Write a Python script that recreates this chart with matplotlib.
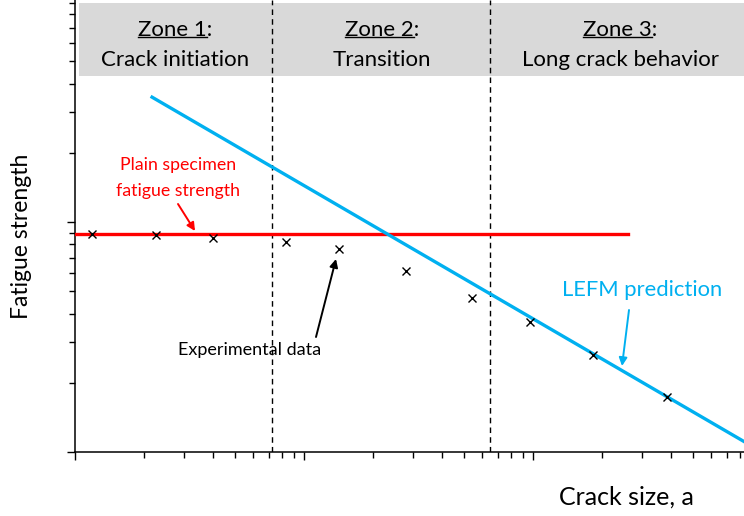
import matplotlib
matplotlib.use("Agg")
import matplotlib.pyplot as plt
from matplotlib.lines import Line2D
import numpy as np

plt.rcParams['font.family'] = ['Lato', 'DejaVu Sans']

# experimental points (crack size, fatigue strength) - arbitrary log units
exp_x = [1.19, 2.26, 4.0, 8.35, 14.2, 27.9, 54.2, 97.0, 183.0, 385.0]
exp_y = [8.87, 8.78, 8.52, 8.19, 7.63, 6.12, 4.67, 3.67, 2.64, 1.73]

# plain specimen fatigue limit
plain_x = [1.0, 260.0]
plain_y = [8.87, 8.87]

# LEFM prediction line
lefm_x = [2.17, 1000.0]
lefm_y = [34.9, 1.0]

# zone boundaries
zone_edges = [7.25, 64.9]
zone_names = ["Zone 1", "Zone 2", "Zone 3"]
zone_desc = ["Crack initiation", "Transition", "Long crack behavior"]

W, H = 744, 516
fig = plt.figure(figsize=(W / 100, H / 100), dpi=100)
ax = fig.add_axes([75 / W, 64 / H, 1 - 75 / W, 452 / H])
ax.set_xscale('log')
ax.set_yscale('log')
ax.set_xlim(1, 10 ** (669 / 229))
ax.set_ylim(1, 10 ** (452 / 230))

for s in ['top', 'right']:
    ax.spines[s].set_visible(False)
for s in ['left', 'bottom']:
    ax.spines[s].set_linewidth(1.1)
ax.tick_params(which='major', length=6, width=1.0, labelbottom=False, labelleft=False)
ax.tick_params(which='minor', length=4, width=1.0, labelbottom=False, labelleft=False)

# grey header band
ax.axhspan(43.1, 89.6, xmin=0.006, xmax=1.0, color='#d9d9d9', zorder=0, lw=0)

for xe in zone_edges:
    ax.axvline(xe, color='black', lw=1.0, ls=(0, (4, 3)), zorder=1)

ax.plot(plain_x, plain_y, color='#ff0000', lw=2.4, zorder=3)
ax.plot(lefm_x, lefm_y, color='#00b0f0', lw=2.4, zorder=3)
ax.plot(exp_x, exp_y, ls='none', marker='x', color='black', ms=6, mew=1.0, zorder=4)

zone_centers_px = [175, 382, 620]
name_texts = []
for cx, nm, ds in zip(zone_centers_px, zone_names, zone_desc):
    t = fig.text(cx / W, 1 - 30 / H, nm + ":", ha='center', va='center', fontsize=16)
    fig.text(cx / W, 1 - 60 / H, ds, ha='center', va='center', fontsize=16)
    name_texts.append(t)

fig.text(178 / W, 1 - 178 / H, "Plain specimen\nfatigue strength", ha='center', va='center',
         color='#ff0000', fontsize=12.8, linespacing=1.75)
ax.annotate("", xy=(195 / W, 1 - 231 / H), xycoords='figure fraction',
            xytext=(178 / W, 1 - 204 / H), textcoords='figure fraction',
            arrowprops=dict(arrowstyle='-|>', color='#ff0000', lw=1.4, mutation_scale=12,
                            shrinkA=0, shrinkB=0))

ax.annotate("", xy=(336 / W, 1 - 259 / H), xycoords='figure fraction',
            xytext=(316 / W, 1 - 337 / H), textcoords='figure fraction',
            arrowprops=dict(arrowstyle='-|>', color='black', lw=1.4, mutation_scale=12,
                            shrinkA=0, shrinkB=0))
fig.text(250 / W, 1 - 350 / H, "Experimental data", ha='center', va='center', fontsize=13)

ax.annotate("", xy=(622 / W, 1 - 366 / H), xycoords='figure fraction',
            xytext=(629 / W, 1 - 310 / H), textcoords='figure fraction',
            arrowprops=dict(arrowstyle='-|>', color='#00b0f0', lw=1.4, mutation_scale=12,
                            shrinkA=0, shrinkB=0))
fig.text(642 / W, 1 - 290 / H, "LEFM prediction", ha='center', va='center', fontsize=15.8, color='#00b0f0')

fig.text(22 / W, 1 - 236 / H, "Fatigue strength", rotation=90, ha='center', va='center', fontsize=16.5)
fig.text(626 / W, 1 - 497 / H, "Crack size, a", ha='center', va='center', fontsize=18)

# underline the "Zone N" part (not the colon)
fig.canvas.draw()
r = fig.canvas.get_renderer()
tmp = fig.text(0, 0, ":", fontsize=16)
colon_w = tmp.get_window_extent(r).width
tmp.remove()
for t in name_texts:
    bb = t.get_window_extent(r)
    yb = bb.y0 + 0.17 * bb.height
    fig.add_artist(Line2D([bb.x0 / W, (bb.x1 - colon_w) / W], [yb / H, yb / H],
                          color='black', lw=1.0))

fig.savefig("out.png", dpi=100)
